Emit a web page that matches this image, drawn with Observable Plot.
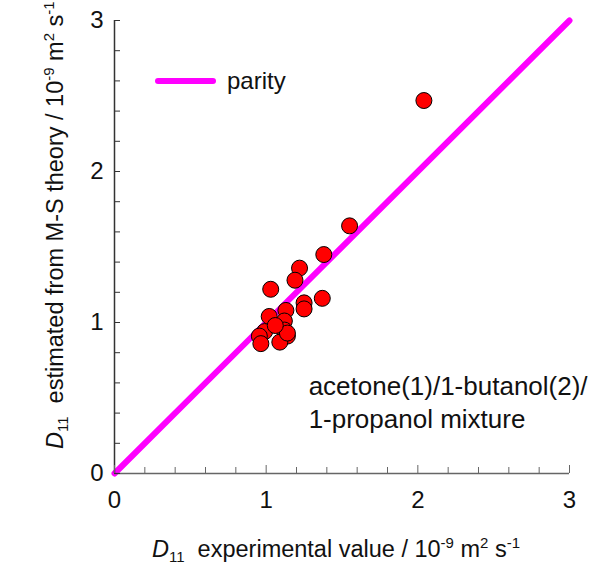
<!DOCTYPE html>
<html>
<head>
<meta charset="utf-8">
<script src="https://cdn.jsdelivr.net/npm/d3@7"></script>
<script src="https://cdn.jsdelivr.net/npm/@observablehq/plot@0.6"></script>
<style>
  html, body { margin: 0; padding: 0; background: #fff; }
  svg { display: block; }
</style>
</head>
<body>
<div id="chart"></div>
<script>
// experimental D11 (x) vs M-S estimated D11 (y), units 1e-9 m2/s
const expValues = [2.04, 1.55, 1.38, 1.22, 1.19, 1.03, 1.37, 1.25, 1.25, 1.13, 1.02, 1.12, 1.12, 1.14, 0.99, 0.955, 0.965, 1.09, 1.14, 1.06];
const msValues  = [2.47, 1.64, 1.45, 1.36, 1.28, 1.22, 1.16, 1.13, 1.09, 1.08, 1.04, 1.01, 0.95, 0.91, 0.94, 0.91, 0.86, 0.87, 0.93, 0.98];
const parityLine = [0, 3];
const majorTicks = [0, 1, 2, 3];
const minorTicks = [0.2, 0.4, 0.6, 0.8, 1.2, 1.4, 1.6, 1.8, 2.2, 2.4, 2.6, 2.8];
const annotationLines = ["acetone(1)/1-butanol(2)/", "1-propanol mixture"];
const annotationY = [0.575, 0.355];
const annotationX = 1.28;
const legendLabel = "parity";

const points = expValues.map((x, i) => ({x, y: msValues[i]}));
const parity = parityLine.map(v => ({x: v, y: v}));

const font = "'Liberation Sans', Arial, sans-serif";

const chart = Plot.plot({
  width: 596,
  height: 569,
  marginLeft: 114,
  marginRight: 27,
  marginTop: 20,
  marginBottom: 96,
  x: {domain: [0, 3]},
  y: {domain: [0, 3]},
  style: {fontFamily: font, fontSize: "24px", color: "#111", background: "#fff"},
  marks: [
    Plot.line(parity, {x: "x", y: "y", stroke: "#ff00ff", strokeWidth: 6, strokeLinecap: "round"}),
    Plot.dot(points, {x: "x", y: "y", r: 8, fill: "#ff0000", stroke: "#000", strokeWidth: 1}),
    Plot.ruleY([0], {stroke: "#666", strokeWidth: 1.5}),
    Plot.ruleX([0], {stroke: "#333", strokeWidth: 1.5}),
    Plot.axisX(minorTicks, {tickSize: -6, tickFormat: () => "", stroke: "#666", label: null}),
    Plot.axisX(majorTicks, {tickSize: -8, tickPadding: 25, tickFormat: d => String(d), stroke: "#666", fontSize: 24, fill: "#111", label: null}),
    Plot.axisY(minorTicks, {tickSize: -6, tickFormat: () => "", stroke: "#333", label: null}),
    Plot.axisY(majorTicks, {tickSize: -6, tickPadding: 17, tickFormat: d => String(d), stroke: "#333", fontSize: 24, fill: "#111", label: null}),
    Plot.text(annotationLines, {
      x: () => annotationX, y: (d, i) => annotationY[i], text: d => d,
      textAnchor: "start", fontSize: 26, fill: "#111"
    })
  ]
});

document.getElementById("chart").appendChild(chart);

const svg = d3.select(chart);

// legend
const lg = svg.append("g");
lg.append("line").attr("x1", 158).attr("x2", 213).attr("y1", 81).attr("y2", 81)
  .attr("stroke", "#ff00ff").attr("stroke-width", 6).attr("stroke-linecap", "round");
lg.append("text").attr("x", 227).attr("y", 81).attr("dy", "0.35em")
  .attr("text-anchor", "start")
  .attr("font-family", font).attr("font-size", 24).attr("fill", "#111").text(legendLabel);

function richTitle(g) {
  return g.append("text").attr("font-family", font).attr("font-size", 23.5).attr("fill", "#111")
    .attr("text-anchor", "start");
}

function addParts(t, parts) {
  for (const p of parts) {
    const s = t.append("tspan").text(p.t);
    if (p.italic) s.attr("font-style", "italic");
    if (p.sub) s.attr("font-size", 15).attr("baseline-shift", "-35%");
    if (p.sup) s.attr("font-size", 15).attr("baseline-shift", "60%");
  }
}

const titleParts = (mid) => [
  {t: "D", italic: true}, {t: "11", sub: true},
  {t: "\u00a0\u00a0" + mid + " / 10"}, {t: "-9", sup: true},
  {t: " m"}, {t: "2", sup: true}, {t: " s"}, {t: "-1", sup: true}
];

const xt = richTitle(svg).attr("x", 152).attr("y", 557);
addParts(xt, titleParts("experimental value"));

const yt = richTitle(svg).attr("transform", "translate(63,449) rotate(-90)");
addParts(yt, titleParts("estimated from M-S theory"));
</script>
</body>
</html>
